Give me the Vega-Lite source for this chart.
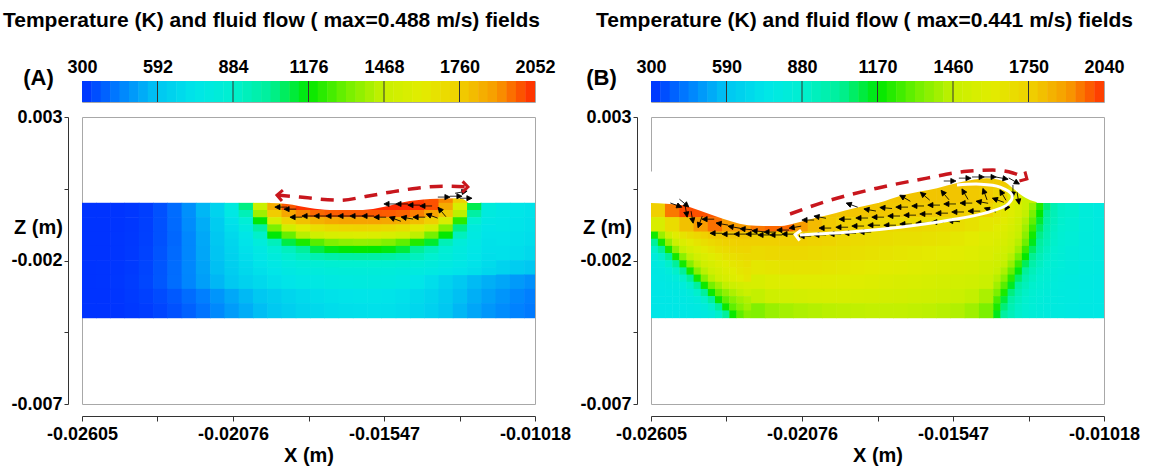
{
"$schema": "https://vega.github.io/schema/vega-lite/v6.json",
"padding": {"left": 2, "top": 9, "right": 0, "bottom": 0},
"config": {"font": "Liberation Sans", "view": {"stroke": "#a8a8a8"}, "axis": {"labelFont": "Liberation Sans", "titleFont": "Liberation Sans"}, "title": {"font": "Liberation Sans"}},
"datasets": {
"cba": [{"t":318.25},{"t":354.75},{"t":391.25},{"t":427.75},{"t":464.25},{"t":500.75},{"t":537.25},{"t":573.75},{"t":610.25},{"t":646.75},{"t":683.25},{"t":719.75},{"t":756.25},{"t":792.75},{"t":829.25},{"t":865.75},{"t":902.25},{"t":938.75},{"t":975.25},{"t":1011.75},{"t":1048.25},{"t":1084.75},{"t":1121.25},{"t":1157.75},{"t":1194.25},{"t":1230.75},{"t":1267.25},{"t":1303.75},{"t":1340.25},{"t":1376.75},{"t":1413.25},{"t":1449.75},{"t":1486.25},{"t":1522.75},{"t":1559.25},{"t":1595.75},{"t":1632.25},{"t":1668.75},{"t":1705.25},{"t":1741.75},{"t":1778.25},{"t":1814.75},{"t":1851.25},{"t":1887.75},{"t":1924.25},{"t":1960.75},{"t":1997.25},{"t":2033.75}],
"cbb": [{"t":318.1},{"t":354.4},{"t":390.6},{"t":426.9},{"t":463.1},{"t":499.4},{"t":535.6},{"t":571.9},{"t":608.1},{"t":644.4},{"t":680.6},{"t":716.9},{"t":753.1},{"t":789.4},{"t":825.6},{"t":861.9},{"t":898.1},{"t":934.4},{"t":970.6},{"t":1006.9},{"t":1043.1},{"t":1079.4},{"t":1115.6},{"t":1151.9},{"t":1188.1},{"t":1224.4},{"t":1260.6},{"t":1296.9},{"t":1333.1},{"t":1369.4},{"t":1405.6},{"t":1441.9},{"t":1478.1},{"t":1514.4},{"t":1550.6},{"t":1586.9},{"t":1623.1},{"t":1659.4},{"t":1695.6},{"t":1731.9},{"t":1768.1},{"t":1804.4},{"t":1840.6},{"t":1876.9},{"t":1913.1},{"t":1949.4},{"t":1985.6},{"t":2021.9}],
"fa": [
{"x":-14.8,"z":0.25,"t":2040},{"x":-14.3,"z":0.25,"t":2030},{"x":-13.8,"z":0.25,"t":2000},{"x":-13.3,"z":0.25,"t":1930},{"x":-12.8,"z":0.25,"t":1760},
{"x":-25.8,"z":-0.25,"t":305},{"x":-25.3,"z":-0.25,"t":305},{"x":-24.8,"z":-0.25,"t":308},{"x":-24.3,"z":-0.25,"t":312},{"x":-23.8,"z":-0.25,"t":325},{"x":-23.3,"z":-0.25,"t":360},{"x":-22.8,"z":-0.25,"t":410},{"x":-22.3,"z":-0.25,"t":480},{"x":-21.8,"z":-0.25,"t":560},{"x":-21.3,"z":-0.25,"t":650},{"x":-11.3,"z":-0.25,"t":770},{"x":-10.8,"z":-0.25,"t":740},{"x":-10.3,"z":-0.25,"t":725},
{"x":-25.8,"z":-0.75,"t":305},{"x":-25.3,"z":-0.75,"t":305},{"x":-24.8,"z":-0.75,"t":308},{"x":-24.3,"z":-0.75,"t":313},{"x":-23.8,"z":-0.75,"t":328},{"x":-23.3,"z":-0.75,"t":360},{"x":-22.8,"z":-0.75,"t":405},{"x":-22.3,"z":-0.75,"t":470},{"x":-21.8,"z":-0.75,"t":540},{"x":-21.3,"z":-0.75,"t":620},{"x":-11.3,"z":-0.75,"t":750},{"x":-10.8,"z":-0.75,"t":730},{"x":-10.3,"z":-0.75,"t":715},
{"x":-25.8,"z":-1.25,"t":305},{"x":-25.3,"z":-1.25,"t":306},{"x":-24.8,"z":-1.25,"t":309},{"x":-24.3,"z":-1.25,"t":315},{"x":-23.8,"z":-1.25,"t":330},{"x":-23.3,"z":-1.25,"t":360},{"x":-22.8,"z":-1.25,"t":400},{"x":-22.3,"z":-1.25,"t":460},{"x":-21.8,"z":-1.25,"t":530},{"x":-21.3,"z":-1.25,"t":600},{"x":-11.3,"z":-1.25,"t":730},{"x":-10.8,"z":-1.25,"t":715},{"x":-10.3,"z":-1.25,"t":700},
{"x":-25.8,"z":-1.75,"t":305},{"x":-25.3,"z":-1.75,"t":306},{"x":-24.8,"z":-1.75,"t":310},{"x":-24.3,"z":-1.75,"t":317},{"x":-23.8,"z":-1.75,"t":333},{"x":-23.3,"z":-1.75,"t":365},{"x":-22.8,"z":-1.75,"t":405},{"x":-22.3,"z":-1.75,"t":460},{"x":-21.8,"z":-1.75,"t":525},{"x":-21.3,"z":-1.75,"t":590},{"x":-11.3,"z":-1.75,"t":715},{"x":-10.8,"z":-1.75,"t":700},{"x":-10.3,"z":-1.75,"t":680},
{"x":-25.8,"z":-2.25,"t":305},{"x":-25.3,"z":-2.25,"t":307},{"x":-24.8,"z":-2.25,"t":311},{"x":-24.3,"z":-2.25,"t":319},{"x":-23.8,"z":-2.25,"t":337},{"x":-23.3,"z":-2.25,"t":370},{"x":-22.8,"z":-2.25,"t":410},{"x":-22.3,"z":-2.25,"t":460},{"x":-21.8,"z":-2.25,"t":520},{"x":-21.3,"z":-2.25,"t":580},{"x":-11.3,"z":-2.25,"t":650},{"x":-10.8,"z":-2.25,"t":625},{"x":-10.3,"z":-2.25,"t":600},
{"x":-25.8,"z":-2.75,"t":305},{"x":-25.3,"z":-2.75,"t":307},{"x":-24.8,"z":-2.75,"t":312},{"x":-24.3,"z":-2.75,"t":321},{"x":-23.8,"z":-2.75,"t":340},{"x":-23.3,"z":-2.75,"t":372},{"x":-22.8,"z":-2.75,"t":412},{"x":-22.3,"z":-2.75,"t":458},{"x":-21.8,"z":-2.75,"t":510},{"x":-21.3,"z":-2.75,"t":560},{"x":-20.8,"z":-2.75,"t":605},{"x":-20.3,"z":-2.75,"t":645},{"x":-19.8,"z":-2.75,"t":680},{"x":-19.3,"z":-2.75,"t":710},{"x":-18.8,"z":-2.75,"t":735},{"x":-18.3,"z":-2.75,"t":755},{"x":-17.8,"z":-2.75,"t":770},{"x":-17.3,"z":-2.75,"t":785},{"x":-16.8,"z":-2.75,"t":795},{"x":-16.3,"z":-2.75,"t":800},{"x":-15.8,"z":-2.75,"t":800},{"x":-15.3,"z":-2.75,"t":795},{"x":-14.8,"z":-2.75,"t":775},{"x":-14.3,"z":-2.75,"t":740},{"x":-13.8,"z":-2.75,"t":700},{"x":-13.3,"z":-2.75,"t":650},{"x":-12.8,"z":-2.75,"t":605},{"x":-12.3,"z":-2.75,"t":570},{"x":-11.8,"z":-2.75,"t":545},{"x":-11.3,"z":-2.75,"t":525},{"x":-10.8,"z":-2.75,"t":500},{"x":-10.3,"z":-2.75,"t":480},
{"x":-25.8,"z":-3.25,"t":305},{"x":-25.3,"z":-3.25,"t":306},{"x":-24.8,"z":-3.25,"t":310},{"x":-24.3,"z":-3.25,"t":318},{"x":-23.8,"z":-3.25,"t":330},{"x":-23.3,"z":-3.25,"t":350},{"x":-22.8,"z":-3.25,"t":375},{"x":-22.3,"z":-3.25,"t":410},{"x":-21.8,"z":-3.25,"t":445},{"x":-21.3,"z":-3.25,"t":490},{"x":-20.8,"z":-3.25,"t":530},{"x":-20.3,"z":-3.25,"t":565},{"x":-19.8,"z":-3.25,"t":600},{"x":-19.3,"z":-3.25,"t":630},{"x":-18.8,"z":-3.25,"t":660},{"x":-18.3,"z":-3.25,"t":685},{"x":-17.8,"z":-3.25,"t":705},{"x":-17.3,"z":-3.25,"t":720},{"x":-16.8,"z":-3.25,"t":730},{"x":-16.3,"z":-3.25,"t":735},{"x":-15.8,"z":-3.25,"t":735},{"x":-15.3,"z":-3.25,"t":730},{"x":-14.8,"z":-3.25,"t":715},{"x":-14.3,"z":-3.25,"t":690},{"x":-13.8,"z":-3.25,"t":660},{"x":-13.3,"z":-3.25,"t":620},{"x":-12.8,"z":-3.25,"t":580},{"x":-12.3,"z":-3.25,"t":545},{"x":-11.8,"z":-3.25,"t":515},{"x":-11.3,"z":-3.25,"t":490},{"x":-10.8,"z":-3.25,"t":465},{"x":-10.3,"z":-3.25,"t":445},
{"x":-25.8,"z":-3.75,"t":305},{"x":-25.3,"z":-3.75,"t":305},{"x":-24.8,"z":-3.75,"t":308},{"x":-24.3,"z":-3.75,"t":314},{"x":-23.8,"z":-3.75,"t":322},{"x":-23.3,"z":-3.75,"t":338},{"x":-22.8,"z":-3.75,"t":360},{"x":-22.3,"z":-3.75,"t":390},{"x":-21.8,"z":-3.75,"t":425},{"x":-21.3,"z":-3.75,"t":465},{"x":-20.8,"z":-3.75,"t":505},{"x":-20.3,"z":-3.75,"t":540},{"x":-19.8,"z":-3.75,"t":575},{"x":-19.3,"z":-3.75,"t":605},{"x":-18.8,"z":-3.75,"t":635},{"x":-18.3,"z":-3.75,"t":660},{"x":-17.8,"z":-3.75,"t":680},{"x":-17.3,"z":-3.75,"t":695},{"x":-16.8,"z":-3.75,"t":705},{"x":-16.3,"z":-3.75,"t":712},{"x":-15.8,"z":-3.75,"t":715},{"x":-15.3,"z":-3.75,"t":710},{"x":-14.8,"z":-3.75,"t":695},{"x":-14.3,"z":-3.75,"t":670},{"x":-13.8,"z":-3.75,"t":640},{"x":-13.3,"z":-3.75,"t":600},{"x":-12.8,"z":-3.75,"t":560},{"x":-12.3,"z":-3.75,"t":525},{"x":-11.8,"z":-3.75,"t":495},{"x":-11.3,"z":-3.75,"t":470},{"x":-10.8,"z":-3.75,"t":450},{"x":-10.3,"z":-3.75,"t":435}
],
"fa2": [
{"x":-20.8,"z":-0.125,"t":800},{"x":-20.3,"z":-0.125,"t":1050},{"x":-19.8,"z":-0.125,"t":1480},{"x":-19.3,"z":-0.125,"t":1850},{"x":-18.8,"z":-0.125,"t":1990},{"x":-18.3,"z":-0.125,"t":2035},{"x":-17.8,"z":-0.125,"t":2050},{"x":-17.3,"z":-0.125,"t":2050},{"x":-16.8,"z":-0.125,"t":2050},{"x":-16.3,"z":-0.125,"t":2050},{"x":-15.8,"z":-0.125,"t":2050},{"x":-15.3,"z":-0.125,"t":2050},{"x":-14.8,"z":-0.125,"t":2050},{"x":-14.3,"z":-0.125,"t":2040},{"x":-13.8,"z":-0.125,"t":2000},{"x":-13.3,"z":-0.125,"t":1860},{"x":-12.8,"z":-0.125,"t":1550},{"x":-12.3,"z":-0.125,"t":1100},{"x":-11.8,"z":-0.125,"t":820},
{"x":-20.8,"z":-0.375,"t":760},{"x":-20.3,"z":-0.375,"t":950},{"x":-19.8,"z":-0.375,"t":1400},{"x":-19.3,"z":-0.375,"t":1770},{"x":-18.8,"z":-0.375,"t":1870},{"x":-18.3,"z":-0.375,"t":1930},{"x":-17.8,"z":-0.375,"t":1970},{"x":-17.3,"z":-0.375,"t":1985},{"x":-16.8,"z":-0.375,"t":1990},{"x":-16.3,"z":-0.375,"t":1990},{"x":-15.8,"z":-0.375,"t":1990},{"x":-15.3,"z":-0.375,"t":1985},{"x":-14.8,"z":-0.375,"t":1975},{"x":-14.3,"z":-0.375,"t":1940},{"x":-13.8,"z":-0.375,"t":1880},{"x":-13.3,"z":-0.375,"t":1780},{"x":-12.8,"z":-0.375,"t":1450},{"x":-12.3,"z":-0.375,"t":1000},{"x":-11.8,"z":-0.375,"t":790},
{"x":-20.8,"z":-0.625,"t":720},{"x":-20.3,"z":-0.625,"t":850},{"x":-19.8,"z":-0.625,"t":1170},{"x":-19.3,"z":-0.625,"t":1540},{"x":-18.8,"z":-0.625,"t":1740},{"x":-18.3,"z":-0.625,"t":1800},{"x":-17.8,"z":-0.625,"t":1845},{"x":-17.3,"z":-0.625,"t":1868},{"x":-16.8,"z":-0.625,"t":1878},{"x":-16.3,"z":-0.625,"t":1880},{"x":-15.8,"z":-0.625,"t":1880},{"x":-15.3,"z":-0.625,"t":1870},{"x":-14.8,"z":-0.625,"t":1850},{"x":-14.3,"z":-0.625,"t":1810},{"x":-13.8,"z":-0.625,"t":1760},{"x":-13.3,"z":-0.625,"t":1560},{"x":-12.8,"z":-0.625,"t":1230},{"x":-12.3,"z":-0.625,"t":880},{"x":-11.8,"z":-0.625,"t":760},
{"x":-20.8,"z":-0.875,"t":700},{"x":-20.3,"z":-0.875,"t":790},{"x":-19.8,"z":-0.875,"t":1000},{"x":-19.3,"z":-0.875,"t":1340},{"x":-18.8,"z":-0.875,"t":1520},{"x":-18.3,"z":-0.875,"t":1620},{"x":-17.8,"z":-0.875,"t":1685},{"x":-17.3,"z":-0.875,"t":1720},{"x":-16.8,"z":-0.875,"t":1735},{"x":-16.3,"z":-0.875,"t":1740},{"x":-15.8,"z":-0.875,"t":1735},{"x":-15.3,"z":-0.875,"t":1720},{"x":-14.8,"z":-0.875,"t":1690},{"x":-14.3,"z":-0.875,"t":1630},{"x":-13.8,"z":-0.875,"t":1540},{"x":-13.3,"z":-0.875,"t":1350},{"x":-12.8,"z":-0.875,"t":1050},{"x":-12.3,"z":-0.875,"t":800},{"x":-11.8,"z":-0.875,"t":740},
{"x":-20.8,"z":-1.125,"t":680},{"x":-20.3,"z":-1.125,"t":745},{"x":-19.8,"z":-1.125,"t":900},{"x":-19.3,"z":-1.125,"t":1170},{"x":-18.8,"z":-1.125,"t":1310},{"x":-18.3,"z":-1.125,"t":1440},{"x":-17.8,"z":-1.125,"t":1510},{"x":-17.3,"z":-1.125,"t":1550},{"x":-16.8,"z":-1.125,"t":1570},{"x":-16.3,"z":-1.125,"t":1580},{"x":-15.8,"z":-1.125,"t":1575},{"x":-15.3,"z":-1.125,"t":1555},{"x":-14.8,"z":-1.125,"t":1520},{"x":-14.3,"z":-1.125,"t":1450},{"x":-13.8,"z":-1.125,"t":1330},{"x":-13.3,"z":-1.125,"t":1180},{"x":-12.8,"z":-1.125,"t":930},{"x":-12.3,"z":-1.125,"t":780},{"x":-11.8,"z":-1.125,"t":730},
{"x":-20.8,"z":-1.375,"t":665},{"x":-20.3,"z":-1.375,"t":730},{"x":-19.8,"z":-1.375,"t":820},{"x":-19.3,"z":-1.375,"t":940},{"x":-18.8,"z":-1.375,"t":1110},{"x":-18.3,"z":-1.375,"t":1210},{"x":-17.8,"z":-1.375,"t":1290},{"x":-17.3,"z":-1.375,"t":1345},{"x":-16.8,"z":-1.375,"t":1370},{"x":-16.3,"z":-1.375,"t":1380},{"x":-15.8,"z":-1.375,"t":1375},{"x":-15.3,"z":-1.375,"t":1350},{"x":-14.8,"z":-1.375,"t":1300},{"x":-14.3,"z":-1.375,"t":1220},{"x":-13.8,"z":-1.375,"t":1130},{"x":-13.3,"z":-1.375,"t":950},{"x":-12.8,"z":-1.375,"t":830},{"x":-12.3,"z":-1.375,"t":760},{"x":-11.8,"z":-1.375,"t":720},
{"x":-20.8,"z":-1.625,"t":655},{"x":-20.3,"z":-1.625,"t":715},{"x":-19.8,"z":-1.625,"t":770},{"x":-19.3,"z":-1.625,"t":855},{"x":-18.8,"z":-1.625,"t":930},{"x":-18.3,"z":-1.625,"t":1020},{"x":-17.8,"z":-1.625,"t":1110},{"x":-17.3,"z":-1.625,"t":1158},{"x":-16.8,"z":-1.625,"t":1170},{"x":-16.3,"z":-1.625,"t":1180},{"x":-15.8,"z":-1.625,"t":1175},{"x":-15.3,"z":-1.625,"t":1160},{"x":-14.8,"z":-1.625,"t":1120},{"x":-14.3,"z":-1.625,"t":1030},{"x":-13.8,"z":-1.625,"t":940},{"x":-13.3,"z":-1.625,"t":860},{"x":-12.8,"z":-1.625,"t":800},{"x":-12.3,"z":-1.625,"t":750},{"x":-11.8,"z":-1.625,"t":715},
{"x":-20.8,"z":-1.875,"t":645},{"x":-20.3,"z":-1.875,"t":700},{"x":-19.8,"z":-1.875,"t":750},{"x":-19.3,"z":-1.875,"t":810},{"x":-18.8,"z":-1.875,"t":875},{"x":-18.3,"z":-1.875,"t":920},{"x":-17.8,"z":-1.875,"t":960},{"x":-17.3,"z":-1.875,"t":985},{"x":-16.8,"z":-1.875,"t":995},{"x":-16.3,"z":-1.875,"t":1000},{"x":-15.8,"z":-1.875,"t":995},{"x":-15.3,"z":-1.875,"t":985},{"x":-14.8,"z":-1.875,"t":965},{"x":-14.3,"z":-1.875,"t":925},{"x":-13.8,"z":-1.875,"t":880},{"x":-13.3,"z":-1.875,"t":830},{"x":-12.8,"z":-1.875,"t":785},{"x":-12.3,"z":-1.875,"t":740},{"x":-11.8,"z":-1.875,"t":705},
{"x":-20.8,"z":-2.125,"t":635},{"x":-20.3,"z":-2.125,"t":685},{"x":-19.8,"z":-2.125,"t":730},{"x":-19.3,"z":-2.125,"t":765},{"x":-18.8,"z":-2.125,"t":805},{"x":-18.3,"z":-2.125,"t":832},{"x":-17.8,"z":-2.125,"t":855},{"x":-17.3,"z":-2.125,"t":870},{"x":-16.8,"z":-2.125,"t":877},{"x":-16.3,"z":-2.125,"t":880},{"x":-15.8,"z":-2.125,"t":878},{"x":-15.3,"z":-2.125,"t":870},{"x":-14.8,"z":-2.125,"t":858},{"x":-14.3,"z":-2.125,"t":835},{"x":-13.8,"z":-2.125,"t":810},{"x":-13.3,"z":-2.125,"t":780},{"x":-12.8,"z":-2.125,"t":755},{"x":-12.3,"z":-2.125,"t":725},{"x":-11.8,"z":-2.125,"t":690},
{"x":-20.8,"z":-2.375,"t":625},{"x":-20.3,"z":-2.375,"t":675},{"x":-19.8,"z":-2.375,"t":712},{"x":-19.3,"z":-2.375,"t":740},{"x":-18.8,"z":-2.375,"t":772},{"x":-18.3,"z":-2.375,"t":793},{"x":-17.8,"z":-2.375,"t":810},{"x":-17.3,"z":-2.375,"t":822},{"x":-16.8,"z":-2.375,"t":827},{"x":-16.3,"z":-2.375,"t":830},{"x":-15.8,"z":-2.375,"t":828},{"x":-15.3,"z":-2.375,"t":822},{"x":-14.8,"z":-2.375,"t":812},{"x":-14.3,"z":-2.375,"t":795},{"x":-13.8,"z":-2.375,"t":775},{"x":-13.3,"z":-2.375,"t":752},{"x":-12.8,"z":-2.375,"t":730},{"x":-12.3,"z":-2.375,"t":705},{"x":-11.8,"z":-2.375,"t":670}
],
"fb": [
{"x":-16.3,"z":0.75,"t":1780},{"x":-15.8,"z":0.75,"t":1790},{"x":-15.3,"z":0.75,"t":1790},{"x":-14.8,"z":0.75,"t":1790},{"x":-14.3,"z":0.75,"t":1780},{"x":-13.8,"z":0.75,"t":1770},{"x":-13.3,"z":0.75,"t":1740},
{"x":-17.8,"z":0.25,"t":1790},{"x":-17.3,"z":0.25,"t":1790},{"x":-16.8,"z":0.25,"t":1790},{"x":-16.3,"z":0.25,"t":1790},{"x":-15.8,"z":0.25,"t":1790},{"x":-15.3,"z":0.25,"t":1790},{"x":-14.8,"z":0.25,"t":1780},{"x":-14.3,"z":0.25,"t":1770},{"x":-13.8,"z":0.25,"t":1740},{"x":-13.3,"z":0.25,"t":1620},{"x":-12.8,"z":0.25,"t":1480},
{"x":-25.8,"z":-0.25,"t":1760},{"x":-25.3,"z":-0.25,"t":1950},{"x":-24.8,"z":-0.25,"t":2010},{"x":-24.3,"z":-0.25,"t":2000},{"x":-23.8,"z":-0.25,"t":1990},{"x":-20.3,"z":-0.25,"t":1800},{"x":-19.8,"z":-0.25,"t":1790},{"x":-19.3,"z":-0.25,"t":1790},{"x":-18.8,"z":-0.25,"t":1790},{"x":-18.3,"z":-0.25,"t":1790},{"x":-17.8,"z":-0.25,"t":1785},{"x":-17.3,"z":-0.25,"t":1780},{"x":-16.8,"z":-0.25,"t":1780},{"x":-16.3,"z":-0.25,"t":1775},{"x":-15.8,"z":-0.25,"t":1770},{"x":-15.3,"z":-0.25,"t":1765},{"x":-14.8,"z":-0.25,"t":1755},{"x":-14.3,"z":-0.25,"t":1735},{"x":-11.3,"z":-0.25,"t":890},{"x":-10.8,"z":-0.25,"t":825},{"x":-10.3,"z":-0.25,"t":790},
{"x":-25.8,"z":-0.75,"t":1560},{"x":-25.3,"z":-0.75,"t":1700},{"x":-24.8,"z":-0.75,"t":1800},{"x":-24.3,"z":-0.75,"t":1900},{"x":-23.8,"z":-0.75,"t":1960},{"x":-23.3,"z":-0.75,"t":1900},{"x":-22.8,"z":-0.75,"t":1900},{"x":-22.3,"z":-0.75,"t":1950},{"x":-21.8,"z":-0.75,"t":1970},{"x":-21.3,"z":-0.75,"t":1970},{"x":-20.8,"z":-0.75,"t":1900},{"x":-20.3,"z":-0.75,"t":1820},{"x":-19.8,"z":-0.75,"t":1780},{"x":-19.3,"z":-0.75,"t":1760},{"x":-18.8,"z":-0.75,"t":1750},{"x":-18.3,"z":-0.75,"t":1740},{"x":-17.8,"z":-0.75,"t":1730},{"x":-17.3,"z":-0.75,"t":1720},{"x":-16.8,"z":-0.75,"t":1720},{"x":-16.3,"z":-0.75,"t":1710},{"x":-15.8,"z":-0.75,"t":1700},{"x":-15.3,"z":-0.75,"t":1690},{"x":-14.8,"z":-0.75,"t":1670},{"x":-14.3,"z":-0.75,"t":1640},{"x":-11.3,"z":-0.75,"t":865},{"x":-10.8,"z":-0.75,"t":820},{"x":-10.3,"z":-0.75,"t":795},
{"x":-22.3,"z":-1.25,"t":1760},{"x":-21.8,"z":-1.25,"t":1760},{"x":-21.3,"z":-1.25,"t":1760},{"x":-20.8,"z":-1.25,"t":1760},{"x":-20.3,"z":-1.25,"t":1750},{"x":-19.8,"z":-1.25,"t":1740},{"x":-19.3,"z":-1.25,"t":1720},{"x":-18.8,"z":-1.25,"t":1710},{"x":-18.3,"z":-1.25,"t":1700},{"x":-17.8,"z":-1.25,"t":1690},{"x":-17.3,"z":-1.25,"t":1680},{"x":-16.8,"z":-1.25,"t":1680},{"x":-16.3,"z":-1.25,"t":1670},{"x":-15.8,"z":-1.25,"t":1660},{"x":-15.3,"z":-1.25,"t":1640},{"x":-14.8,"z":-1.25,"t":1620},{"x":-14.3,"z":-1.25,"t":1590},{"x":-11.3,"z":-1.25,"t":850},{"x":-10.8,"z":-1.25,"t":812},{"x":-10.3,"z":-1.25,"t":790},
{"x":-22.3,"z":-1.75,"t":1710},{"x":-21.8,"z":-1.75,"t":1720},{"x":-21.3,"z":-1.75,"t":1720},{"x":-20.8,"z":-1.75,"t":1720},{"x":-20.3,"z":-1.75,"t":1710},{"x":-19.8,"z":-1.75,"t":1700},{"x":-19.3,"z":-1.75,"t":1690},{"x":-18.8,"z":-1.75,"t":1680},{"x":-18.3,"z":-1.75,"t":1670},{"x":-17.8,"z":-1.75,"t":1660},{"x":-17.3,"z":-1.75,"t":1650},{"x":-16.8,"z":-1.75,"t":1640},{"x":-16.3,"z":-1.75,"t":1630},{"x":-15.8,"z":-1.75,"t":1620},{"x":-15.3,"z":-1.75,"t":1610},{"x":-14.8,"z":-1.75,"t":1590},{"x":-14.3,"z":-1.75,"t":1570},{"x":-11.3,"z":-1.75,"t":830},{"x":-10.8,"z":-1.75,"t":805},{"x":-10.3,"z":-1.75,"t":785},
{"x":-22.3,"z":-2.25,"t":1640},{"x":-21.8,"z":-2.25,"t":1650},{"x":-21.3,"z":-2.25,"t":1660},{"x":-20.8,"z":-2.25,"t":1660},{"x":-20.3,"z":-2.25,"t":1660},{"x":-19.8,"z":-2.25,"t":1650},{"x":-19.3,"z":-2.25,"t":1640},{"x":-18.8,"z":-2.25,"t":1630},{"x":-18.3,"z":-2.25,"t":1620},{"x":-17.8,"z":-2.25,"t":1610},{"x":-17.3,"z":-2.25,"t":1600},{"x":-16.8,"z":-2.25,"t":1590},{"x":-16.3,"z":-2.25,"t":1580},{"x":-15.8,"z":-2.25,"t":1570},{"x":-15.3,"z":-2.25,"t":1560},{"x":-14.8,"z":-2.25,"t":1545},{"x":-14.3,"z":-2.25,"t":1520},{"x":-11.3,"z":-2.25,"t":815},{"x":-10.8,"z":-2.25,"t":795},{"x":-10.3,"z":-2.25,"t":778},
{"x":-22.3,"z":-2.75,"t":1550},{"x":-21.8,"z":-2.75,"t":1580},{"x":-21.3,"z":-2.75,"t":1590},{"x":-20.8,"z":-2.75,"t":1600},{"x":-20.3,"z":-2.75,"t":1600},{"x":-19.8,"z":-2.75,"t":1600},{"x":-19.3,"z":-2.75,"t":1595},{"x":-18.8,"z":-2.75,"t":1590},{"x":-18.3,"z":-2.75,"t":1580},{"x":-17.8,"z":-2.75,"t":1570},{"x":-17.3,"z":-2.75,"t":1560},{"x":-16.8,"z":-2.75,"t":1550},{"x":-16.3,"z":-2.75,"t":1540},{"x":-15.8,"z":-2.75,"t":1530},{"x":-15.3,"z":-2.75,"t":1520},{"x":-14.8,"z":-2.75,"t":1505},{"x":-14.3,"z":-2.75,"t":1480},{"x":-11.3,"z":-2.75,"t":800},{"x":-10.8,"z":-2.75,"t":782},{"x":-10.3,"z":-2.75,"t":770},
{"x":-22.3,"z":-3.25,"t":1460},{"x":-21.8,"z":-3.25,"t":1500},{"x":-21.3,"z":-3.25,"t":1520},{"x":-20.8,"z":-3.25,"t":1530},{"x":-20.3,"z":-3.25,"t":1540},{"x":-19.8,"z":-3.25,"t":1545},{"x":-19.3,"z":-3.25,"t":1545},{"x":-18.8,"z":-3.25,"t":1540},{"x":-18.3,"z":-3.25,"t":1535},{"x":-17.8,"z":-3.25,"t":1530},{"x":-17.3,"z":-3.25,"t":1525},{"x":-16.8,"z":-3.25,"t":1515},{"x":-16.3,"z":-3.25,"t":1505},{"x":-15.8,"z":-3.25,"t":1495},{"x":-15.3,"z":-3.25,"t":1480},{"x":-14.8,"z":-3.25,"t":1460},{"x":-14.3,"z":-3.25,"t":1420},{"x":-11.3,"z":-3.25,"t":790},{"x":-10.8,"z":-3.25,"t":775},{"x":-10.3,"z":-3.25,"t":765},
{"x":-22.3,"z":-3.75,"t":1350},{"x":-21.8,"z":-3.75,"t":1390},{"x":-21.3,"z":-3.75,"t":1410},{"x":-20.8,"z":-3.75,"t":1425},{"x":-20.3,"z":-3.75,"t":1435},{"x":-19.8,"z":-3.75,"t":1445},{"x":-19.3,"z":-3.75,"t":1450},{"x":-18.8,"z":-3.75,"t":1455},{"x":-18.3,"z":-3.75,"t":1460},{"x":-17.8,"z":-3.75,"t":1460},{"x":-17.3,"z":-3.75,"t":1460},{"x":-16.8,"z":-3.75,"t":1455},{"x":-16.3,"z":-3.75,"t":1450},{"x":-15.8,"z":-3.75,"t":1440},{"x":-15.3,"z":-3.75,"t":1430},{"x":-14.8,"z":-3.75,"t":1400},{"x":-14.3,"z":-3.75,"t":1340},{"x":-11.3,"z":-3.75,"t":780},{"x":-10.8,"z":-3.75,"t":770},{"x":-10.3,"z":-3.75,"t":760}
],
"fb2": [
{"x":-25.925,"z":-1.125,"t":1200},{"x":-25.675,"z":-1.125,"t":1390},{"x":-25.425,"z":-1.125,"t":1505},{"x":-25.175,"z":-1.125,"t":1600},{"x":-24.925,"z":-1.125,"t":1660},{"x":-24.675,"z":-1.125,"t":1695},{"x":-24.425,"z":-1.125,"t":1725},{"x":-24.175,"z":-1.125,"t":1755},{"x":-23.925,"z":-1.125,"t":1775},{"x":-23.675,"z":-1.125,"t":1780},{"x":-23.425,"z":-1.125,"t":1785},{"x":-23.175,"z":-1.125,"t":1785},{"x":-22.925,"z":-1.125,"t":1785},{"x":-22.675,"z":-1.125,"t":1785},
{"x":-25.925,"z":-1.375,"t":1022},{"x":-25.675,"z":-1.375,"t":1200},{"x":-25.425,"z":-1.375,"t":1380},{"x":-25.175,"z":-1.375,"t":1485},{"x":-24.925,"z":-1.375,"t":1570},{"x":-24.675,"z":-1.375,"t":1620},{"x":-24.425,"z":-1.375,"t":1655},{"x":-24.175,"z":-1.375,"t":1685},{"x":-23.925,"z":-1.375,"t":1715},{"x":-23.675,"z":-1.375,"t":1733},{"x":-23.425,"z":-1.375,"t":1752},{"x":-23.175,"z":-1.375,"t":1756},{"x":-22.925,"z":-1.375,"t":1760},{"x":-22.675,"z":-1.375,"t":1760},
{"x":-25.925,"z":-1.625,"t":898},{"x":-25.675,"z":-1.625,"t":1022},{"x":-25.425,"z":-1.625,"t":1202},{"x":-25.175,"z":-1.625,"t":1370},{"x":-24.925,"z":-1.625,"t":1466},{"x":-24.675,"z":-1.625,"t":1540},{"x":-24.425,"z":-1.625,"t":1588},{"x":-24.175,"z":-1.625,"t":1625},{"x":-23.925,"z":-1.625,"t":1655},{"x":-23.675,"z":-1.625,"t":1685},{"x":-23.425,"z":-1.625,"t":1703},{"x":-23.175,"z":-1.625,"t":1722},{"x":-22.925,"z":-1.625,"t":1730},{"x":-22.675,"z":-1.625,"t":1735},
{"x":-25.925,"z":-1.875,"t":820},{"x":-25.675,"z":-1.875,"t":897},{"x":-25.425,"z":-1.875,"t":1022},{"x":-25.175,"z":-1.875,"t":1200},{"x":-24.925,"z":-1.875,"t":1365},{"x":-24.675,"z":-1.875,"t":1455},{"x":-24.425,"z":-1.875,"t":1525},{"x":-24.175,"z":-1.875,"t":1568},{"x":-23.925,"z":-1.875,"t":1605},{"x":-23.675,"z":-1.875,"t":1635},{"x":-23.425,"z":-1.875,"t":1665},{"x":-23.175,"z":-1.875,"t":1683},{"x":-22.925,"z":-1.875,"t":1700},{"x":-22.675,"z":-1.875,"t":1710},
{"x":-25.925,"z":-2.125,"t":788},{"x":-25.675,"z":-2.125,"t":820},{"x":-25.425,"z":-2.125,"t":897},{"x":-25.175,"z":-2.125,"t":1020},{"x":-24.925,"z":-2.125,"t":1200},{"x":-24.675,"z":-2.125,"t":1358},{"x":-24.425,"z":-2.125,"t":1444},{"x":-24.175,"z":-2.125,"t":1508},{"x":-23.925,"z":-2.125,"t":1548},{"x":-23.675,"z":-2.125,"t":1585},{"x":-23.425,"z":-2.125,"t":1615},{"x":-23.175,"z":-2.125,"t":1645},{"x":-22.925,"z":-2.125,"t":1663},{"x":-22.675,"z":-2.125,"t":1682},
{"x":-25.925,"z":-2.375,"t":772},{"x":-25.675,"z":-2.375,"t":787},{"x":-25.425,"z":-2.375,"t":820},{"x":-25.175,"z":-2.375,"t":896},{"x":-24.925,"z":-2.375,"t":1020},{"x":-24.675,"z":-2.375,"t":1197},{"x":-24.425,"z":-2.375,"t":1357},{"x":-24.175,"z":-2.375,"t":1444},{"x":-23.925,"z":-2.375,"t":1508},{"x":-23.675,"z":-2.375,"t":1548},{"x":-23.425,"z":-2.375,"t":1585},{"x":-23.175,"z":-2.375,"t":1615},{"x":-22.925,"z":-2.375,"t":1645},{"x":-22.675,"z":-2.375,"t":1663},
{"x":-25.925,"z":-2.625,"t":764},{"x":-25.675,"z":-2.625,"t":772},{"x":-25.425,"z":-2.625,"t":788},{"x":-25.175,"z":-2.625,"t":820},{"x":-24.925,"z":-2.625,"t":897},{"x":-24.675,"z":-2.625,"t":1020},{"x":-24.425,"z":-2.625,"t":1197},{"x":-24.175,"z":-2.625,"t":1358},{"x":-23.925,"z":-2.625,"t":1444},{"x":-23.675,"z":-2.625,"t":1508},{"x":-23.425,"z":-2.625,"t":1548},{"x":-23.175,"z":-2.625,"t":1585},{"x":-22.925,"z":-2.625,"t":1615},{"x":-22.675,"z":-2.625,"t":1645},
{"x":-25.925,"z":-2.875,"t":758},{"x":-25.675,"z":-2.875,"t":764},{"x":-25.425,"z":-2.875,"t":772},{"x":-25.175,"z":-2.875,"t":787},{"x":-24.925,"z":-2.875,"t":820},{"x":-24.675,"z":-2.875,"t":896},{"x":-24.425,"z":-2.875,"t":1018},{"x":-24.175,"z":-2.875,"t":1193},{"x":-23.925,"z":-2.875,"t":1330},{"x":-23.675,"z":-2.875,"t":1402},{"x":-23.425,"z":-2.875,"t":1457},{"x":-23.175,"z":-2.875,"t":1491},{"x":-22.925,"z":-2.875,"t":1523},{"x":-22.675,"z":-2.875,"t":1548},
{"x":-25.925,"z":-3.125,"t":752},{"x":-25.675,"z":-3.125,"t":758},{"x":-25.425,"z":-3.125,"t":764},{"x":-25.175,"z":-3.125,"t":772},{"x":-24.925,"z":-3.125,"t":787},{"x":-24.675,"z":-3.125,"t":818},{"x":-24.425,"z":-3.125,"t":895},{"x":-24.175,"z":-3.125,"t":1018},{"x":-23.925,"z":-3.125,"t":1189},{"x":-23.675,"z":-3.125,"t":1310},{"x":-23.425,"z":-3.125,"t":1375},{"x":-23.175,"z":-3.125,"t":1424},{"x":-22.925,"z":-3.125,"t":1454},{"x":-22.675,"z":-3.125,"t":1481},
{"x":-25.925,"z":-3.375,"t":748},{"x":-25.675,"z":-3.375,"t":752},{"x":-25.425,"z":-3.375,"t":758},{"x":-25.175,"z":-3.375,"t":764},{"x":-24.925,"z":-3.375,"t":772},{"x":-24.675,"z":-3.375,"t":787},{"x":-24.425,"z":-3.375,"t":818},{"x":-24.175,"z":-3.375,"t":895},{"x":-23.925,"z":-3.375,"t":1015},{"x":-23.675,"z":-3.375,"t":1188},{"x":-23.425,"z":-3.375,"t":1299},{"x":-23.175,"z":-3.375,"t":1359},{"x":-22.925,"z":-3.375,"t":1404},{"x":-22.675,"z":-3.375,"t":1432},
{"x":-25.925,"z":-3.625,"t":745},{"x":-25.675,"z":-3.625,"t":748},{"x":-25.425,"z":-3.625,"t":752},{"x":-25.175,"z":-3.625,"t":758},{"x":-24.925,"z":-3.625,"t":764},{"x":-24.675,"z":-3.625,"t":772},{"x":-24.425,"z":-3.625,"t":787},{"x":-24.175,"z":-3.625,"t":818},{"x":-23.925,"z":-3.625,"t":895},{"x":-23.675,"z":-3.625,"t":1018},{"x":-23.425,"z":-3.625,"t":1188},{"x":-23.175,"z":-3.625,"t":1300},{"x":-22.925,"z":-3.625,"t":1359},{"x":-22.675,"z":-3.625,"t":1404},
{"x":-25.925,"z":-3.875,"t":743},{"x":-25.675,"z":-3.875,"t":745},{"x":-25.425,"z":-3.875,"t":748},{"x":-25.175,"z":-3.875,"t":752},{"x":-24.925,"z":-3.875,"t":758},{"x":-24.675,"z":-3.875,"t":764},{"x":-24.425,"z":-3.875,"t":772},{"x":-24.175,"z":-3.875,"t":787},{"x":-23.925,"z":-3.875,"t":818},{"x":-23.675,"z":-3.875,"t":895},{"x":-23.425,"z":-3.875,"t":1015},{"x":-23.175,"z":-3.875,"t":1188},{"x":-22.925,"z":-3.875,"t":1299},{"x":-22.675,"z":-3.875,"t":1358},
{"x":-13.925,"z":-0.125,"t":1680},{"x":-13.675,"z":-0.125,"t":1650},{"x":-13.425,"z":-0.125,"t":1610},{"x":-13.175,"z":-0.125,"t":1560},{"x":-12.925,"z":-0.125,"t":1480},{"x":-12.675,"z":-0.125,"t":1380},{"x":-12.425,"z":-0.125,"t":1220},{"x":-12.175,"z":-0.125,"t":1060},{"x":-11.925,"z":-0.125,"t":965},{"x":-11.675,"z":-0.125,"t":910},
{"x":-13.925,"z":-0.375,"t":1665},{"x":-13.675,"z":-0.375,"t":1635},{"x":-13.425,"z":-0.375,"t":1590},{"x":-13.175,"z":-0.375,"t":1540},{"x":-12.925,"z":-0.375,"t":1460},{"x":-12.675,"z":-0.375,"t":1340},{"x":-12.425,"z":-0.375,"t":1175},{"x":-12.175,"z":-0.375,"t":1030},{"x":-11.925,"z":-0.375,"t":950},{"x":-11.675,"z":-0.375,"t":900},
{"x":-13.925,"z":-0.625,"t":1640},{"x":-13.675,"z":-0.625,"t":1610},{"x":-13.425,"z":-0.625,"t":1570},{"x":-13.175,"z":-0.625,"t":1510},{"x":-12.925,"z":-0.625,"t":1430},{"x":-12.675,"z":-0.625,"t":1300},{"x":-12.425,"z":-0.625,"t":1130},{"x":-12.175,"z":-0.625,"t":1000},{"x":-11.925,"z":-0.625,"t":935},{"x":-11.675,"z":-0.625,"t":893},
{"x":-13.925,"z":-0.875,"t":1610},{"x":-13.675,"z":-0.875,"t":1585},{"x":-13.425,"z":-0.875,"t":1545},{"x":-13.175,"z":-0.875,"t":1490},{"x":-12.925,"z":-0.875,"t":1400},{"x":-12.675,"z":-0.875,"t":1250},{"x":-12.425,"z":-0.875,"t":1085},{"x":-12.175,"z":-0.875,"t":975},{"x":-11.925,"z":-0.875,"t":920},{"x":-11.675,"z":-0.875,"t":885},
{"x":-13.925,"z":-1.125,"t":1590},{"x":-13.675,"z":-1.125,"t":1565},{"x":-13.425,"z":-1.125,"t":1525},{"x":-13.175,"z":-1.125,"t":1465},{"x":-12.925,"z":-1.125,"t":1365},{"x":-12.675,"z":-1.125,"t":1200},{"x":-12.425,"z":-1.125,"t":1045},{"x":-12.175,"z":-1.125,"t":960},{"x":-11.925,"z":-1.125,"t":905},{"x":-11.675,"z":-1.125,"t":873},
{"x":-13.925,"z":-1.375,"t":1570},{"x":-13.675,"z":-1.375,"t":1545},{"x":-13.425,"z":-1.375,"t":1500},{"x":-13.175,"z":-1.375,"t":1440},{"x":-12.925,"z":-1.375,"t":1320},{"x":-12.675,"z":-1.375,"t":1150},{"x":-12.425,"z":-1.375,"t":1015},{"x":-12.175,"z":-1.375,"t":945},{"x":-11.925,"z":-1.375,"t":897},{"x":-11.675,"z":-1.375,"t":866},
{"x":-13.925,"z":-1.625,"t":1550},{"x":-13.675,"z":-1.625,"t":1520},{"x":-13.425,"z":-1.625,"t":1475},{"x":-13.175,"z":-1.625,"t":1400},{"x":-12.925,"z":-1.625,"t":1250},{"x":-12.675,"z":-1.625,"t":1085},{"x":-12.425,"z":-1.625,"t":985},{"x":-12.175,"z":-1.625,"t":920},{"x":-11.925,"z":-1.625,"t":885},{"x":-11.675,"z":-1.625,"t":856},
{"x":-13.925,"z":-1.875,"t":1530},{"x":-13.675,"z":-1.875,"t":1495},{"x":-13.425,"z":-1.875,"t":1440},{"x":-13.175,"z":-1.875,"t":1330},{"x":-12.925,"z":-1.875,"t":1180},{"x":-12.675,"z":-1.875,"t":1035},{"x":-12.425,"z":-1.875,"t":950},{"x":-12.175,"z":-1.875,"t":900},{"x":-11.925,"z":-1.875,"t":868},{"x":-11.675,"z":-1.875,"t":845},
{"x":-13.925,"z":-2.125,"t":1500},{"x":-13.675,"z":-2.125,"t":1460},{"x":-13.425,"z":-2.125,"t":1385},{"x":-13.175,"z":-2.125,"t":1250},{"x":-12.925,"z":-2.125,"t":1090},{"x":-12.675,"z":-2.125,"t":985},{"x":-12.425,"z":-2.125,"t":925},{"x":-12.175,"z":-2.125,"t":885},{"x":-11.925,"z":-2.125,"t":857},{"x":-11.675,"z":-2.125,"t":835},
{"x":-13.925,"z":-2.375,"t":1475},{"x":-13.675,"z":-2.375,"t":1420},{"x":-13.425,"z":-2.375,"t":1310},{"x":-13.175,"z":-2.375,"t":1160},{"x":-12.925,"z":-2.375,"t":1020},{"x":-12.675,"z":-2.375,"t":945},{"x":-12.425,"z":-2.375,"t":897},{"x":-12.175,"z":-2.375,"t":866},{"x":-11.925,"z":-2.375,"t":842},{"x":-11.675,"z":-2.375,"t":822},
{"x":-13.925,"z":-2.625,"t":1440},{"x":-13.675,"z":-2.625,"t":1360},{"x":-13.425,"z":-2.625,"t":1230},{"x":-13.175,"z":-2.625,"t":1075},{"x":-12.925,"z":-2.625,"t":970},{"x":-12.675,"z":-2.625,"t":915},{"x":-12.425,"z":-2.625,"t":880},{"x":-12.175,"z":-2.625,"t":853},{"x":-11.925,"z":-2.625,"t":832},{"x":-11.675,"z":-2.625,"t":812},
{"x":-13.925,"z":-2.875,"t":1400},{"x":-13.675,"z":-2.875,"t":1290},{"x":-13.425,"z":-2.875,"t":1145},{"x":-13.175,"z":-2.875,"t":1005},{"x":-12.925,"z":-2.875,"t":940},{"x":-12.675,"z":-2.875,"t":893},{"x":-12.425,"z":-2.875,"t":865},{"x":-12.175,"z":-2.875,"t":840},{"x":-11.925,"z":-2.875,"t":820},{"x":-11.675,"z":-2.875,"t":806},
{"x":-13.925,"z":-3.125,"t":1340},{"x":-13.675,"z":-3.125,"t":1210},{"x":-13.425,"z":-3.125,"t":1055},{"x":-13.175,"z":-3.125,"t":962},{"x":-12.925,"z":-3.125,"t":907},{"x":-12.675,"z":-3.125,"t":875},{"x":-12.425,"z":-3.125,"t":850},{"x":-12.175,"z":-3.125,"t":827},{"x":-11.925,"z":-3.125,"t":810},{"x":-11.675,"z":-3.125,"t":800},
{"x":-13.925,"z":-3.375,"t":1270},{"x":-13.675,"z":-3.375,"t":1120},{"x":-13.425,"z":-3.375,"t":995},{"x":-13.175,"z":-3.375,"t":932},{"x":-12.925,"z":-3.375,"t":890},{"x":-12.675,"z":-3.375,"t":862},{"x":-12.425,"z":-3.375,"t":838},{"x":-12.175,"z":-3.375,"t":818},{"x":-11.925,"z":-3.375,"t":805},{"x":-11.675,"z":-3.375,"t":795},
{"x":-13.925,"z":-3.625,"t":1210},{"x":-13.675,"z":-3.625,"t":1060},{"x":-13.425,"z":-3.625,"t":963},{"x":-13.175,"z":-3.625,"t":908},{"x":-12.925,"z":-3.625,"t":876},{"x":-12.675,"z":-3.625,"t":850},{"x":-12.425,"z":-3.625,"t":829},{"x":-12.175,"z":-3.625,"t":811},{"x":-11.925,"z":-3.625,"t":800},{"x":-11.675,"z":-3.625,"t":792},
{"x":-13.925,"z":-3.875,"t":1150},{"x":-13.675,"z":-3.875,"t":1005},{"x":-13.425,"z":-3.875,"t":942},{"x":-13.175,"z":-3.875,"t":895},{"x":-12.925,"z":-3.875,"t":866},{"x":-12.675,"z":-3.875,"t":842},{"x":-12.425,"z":-3.875,"t":822},{"x":-12.175,"z":-3.875,"t":806},{"x":-11.925,"z":-3.875,"t":797},{"x":-11.675,"z":-3.875,"t":790}
],
"sa": [{"x":-19.46,"z":0},{"x":-18.87,"z":-0.03},{"x":-18.06,"z":-0.17},{"x":-17.36,"z":-0.24},{"x":-16.21,"z":-0.24},{"x":-15.5,"z":-0.14},{"x":-14.8,"z":0.03},{"x":-13.86,"z":0.14},{"x":-12.91,"z":0.17},{"x":-12.7,"z":0.14},{"x":-12.46,"z":0},{"x":-12.11,"z":0}],
"sb": [{"x":-26.05,"z":0},{"x":-25.0,"z":-0.07},{"x":-24.4,"z":-0.24},{"x":-23.81,"z":-0.45},{"x":-23.25,"z":-0.63},{"x":-22.65,"z":-0.77},{"x":-22.06,"z":-0.8},{"x":-21.5,"z":-0.8},{"x":-21.01,"z":-0.7},{"x":-20.3,"z":-0.52},{"x":-19.6,"z":-0.35},{"x":-18.9,"z":-0.17},{"x":-18.1,"z":0},{"x":-17.22,"z":0.28},{"x":-16.03,"z":0.52},{"x":-15.33,"z":0.7},{"x":-14.87,"z":0.8},{"x":-14.28,"z":0.87},{"x":-13.72,"z":0.77},{"x":-13.37,"z":0.52},{"x":-13.02,"z":0.24},{"x":-12.67,"z":0.07},{"x":-12.32,"z":0},{"x":-10.18,"z":0}],
"va": [{"x":-19.08,"z":-0.14,"a":180},{"x":-18.76,"z":-0.21,"a":180},{"x":-18.55,"z":-0.49,"a":180},{"x":-18.13,"z":-0.45,"a":180},{"x":-17.71,"z":-0.45,"a":180},{"x":-17.29,"z":-0.45,"a":180},{"x":-16.87,"z":-0.45,"a":180},{"x":-16.45,"z":-0.45,"a":180},{"x":-16.03,"z":-0.45,"a":180},{"x":-15.61,"z":-0.49,"a":180},{"x":-15.08,"z":-0.56,"a":200},{"x":-14.66,"z":-0.52,"a":190},{"x":-14.24,"z":-0.49,"a":180},{"x":-13.79,"z":-0.45,"a":200},{"x":-13.44,"z":-0.31,"a":230},{"x":-15.26,"z":-0.03,"a":180},{"x":-14.84,"z":-0.03,"a":180},{"x":-14.42,"z":-0.07,"a":180},{"x":-14.0,"z":-0.1,"a":180},{"x":-13.37,"z":0.21,"a":0},{"x":-12.95,"z":0.24,"a":0},{"x":-12.6,"z":0.17,"a":0},{"x":-12.77,"z":0.38,"a":-10}],
"vb": [{"x":-25.17,"z":-0.07,"a":20},{"x":-24.89,"z":0.0,"a":40},{"x":-24.82,"z":-0.28,"a":80},{"x":-24.61,"z":-0.49,"a":80},{"x":-24.33,"z":-0.66,"a":110},{"x":-24.05,"z":-0.56,"a":180},{"x":-23.56,"z":-0.73,"a":190},{"x":-23.14,"z":-0.84,"a":190},{"x":-22.72,"z":-0.91,"a":185},{"x":-22.3,"z":-0.98,"a":185},{"x":-21.88,"z":-1.01,"a":180},{"x":-21.43,"z":-0.94,"a":180},{"x":-21.0,"z":-0.84,"a":170},
{"x":-23.77,"z":-1.05,"a":180},{"x":-23.35,"z":-1.08,"a":180},{"x":-22.93,"z":-1.08,"a":180},{"x":-22.51,"z":-1.08,"a":180},{"x":-22.09,"z":-1.11,"a":180},{"x":-21.67,"z":-1.11,"a":180},{"x":-21.25,"z":-1.08,"a":180},
{"x":-20.65,"z":-1.15,"a":180},{"x":-20.13,"z":-1.11,"a":180},{"x":-19.6,"z":-1.08,"a":180},{"x":-19.08,"z":-1.05,"a":180},{"x":-18.55,"z":-1.01,"a":180},
{"x":-19.95,"z":-0.87,"a":180},{"x":-19.36,"z":-0.84,"a":180},{"x":-18.8,"z":-0.8,"a":180},{"x":-18.24,"z":-0.77,"a":180},{"x":-17.68,"z":-0.77,"a":180},{"x":-17.12,"z":-0.73,"a":180},{"x":-16.56,"z":-0.7,"a":180},{"x":-16.0,"z":-0.66,"a":180},{"x":-15.44,"z":-0.63,"a":185},
{"x":-19.25,"z":-0.56,"a":180},{"x":-18.66,"z":-0.52,"a":180},{"x":-18.1,"z":-0.49,"a":180},{"x":-17.54,"z":-0.45,"a":180},{"x":-16.98,"z":-0.42,"a":180},{"x":-16.42,"z":-0.38,"a":180},{"x":-15.86,"z":-0.35,"a":180},{"x":-15.3,"z":-0.31,"a":180},{"x":-14.73,"z":-0.28,"a":180},{"x":-14.17,"z":-0.24,"a":200},
{"x":-18.38,"z":-0.24,"a":190},{"x":-17.82,"z":-0.17,"a":185},{"x":-17.26,"z":-0.14,"a":180},{"x":-16.7,"z":-0.1,"a":180},{"x":-16.14,"z":-0.07,"a":180},{"x":-15.58,"z":-0.03,"a":180},{"x":-15.01,"z":0.0,"a":180},{"x":-14.45,"z":0.03,"a":190},{"x":-13.89,"z":0.1,"a":200},
{"x":-19.01,"z":-0.07,"a":200},{"x":-17.15,"z":0.17,"a":210},{"x":-16.45,"z":0.24,"a":220},{"x":-15.75,"z":0.28,"a":230},{"x":-15.05,"z":0.31,"a":240},{"x":-14.35,"z":0.31,"a":250},{"x":-13.72,"z":0.28,"a":240},
{"x":-15.58,"z":0.77,"a":0},{"x":-15.05,"z":0.87,"a":0},{"x":-14.59,"z":0.91,"a":0},{"x":-14.17,"z":0.91,"a":0},{"x":-13.75,"z":0.87,"a":10},{"x":-13.33,"z":0.77,"a":30},
{"x":-13.37,"z":0.42,"a":90},{"x":-13.19,"z":0.17,"a":80},{"x":-13.54,"z":-0.07,"a":120},{"x":-20.55,"z":-0.59,"a":180},{"x":-20.13,"z":-0.49,"a":190}],
"ra": [{"o":1,"x":-19.22,"z":0.28},{"o":2,"x":-18.41,"z":0.21},{"o":3,"x":-17.01,"z":0.1},{"o":4,"x":-16.07,"z":0.24},{"o":5,"x":-15.26,"z":0.38},{"o":6,"x":-14.31,"z":0.52},{"o":7,"x":-13.4,"z":0.59},{"o":8,"x":-12.53,"z":0.56}],
"rha": [{"x":-19.22,"z":0.28,"a":185},{"x":-12.53,"z":0.56,"a":2}],
"rb": [{"o":1,"x":-21.18,"z":-0.38},{"o":2,"x":-19.88,"z":0.07},{"o":3,"x":-18.13,"z":0.52},{"o":4,"x":-16.38,"z":0.87},{"o":5,"x":-14.98,"z":1.11},{"o":6,"x":-14.07,"z":1.15},{"o":7,"x":-13.37,"z":1.05},{"o":8,"x":-12.88,"z":0.84}],
"rhb": [{"x":-12.88,"z":0.84,"a":30}],
"wb": [{"o":1,"x":-15.33,"z":0.63},{"o":2,"x":-14.52,"z":0.66},{"o":3,"x":-13.82,"z":0.56},{"o":4,"x":-13.4,"z":0.28},{"o":5,"x":-13.54,"z":-0.03},{"o":6,"x":-14.35,"z":-0.35},{"o":7,"x":-15.57,"z":-0.59},{"o":8,"x":-17.33,"z":-0.84},{"o":9,"x":-19.08,"z":-1.01},{"o":10,"x":-20.83,"z":-1.11}],
"whb": [{"x":-21.0,"z":-1.1,"a":188}],
"sepa": [{"v":592},{"v":884},{"v":1176},{"v":1468},{"v":1760}],
"sepb": [{"v":590},{"v":880},{"v":1170},{"v":1460},{"v":1750}]
},
"columns": 2,
"bounds": "flush",
"spacing": {"row": 15, "column": 116},
"concat": [
{"width": 453, "height": 21,
"title": {"text": "Temperature (K) and fluid flow ( max=0.488 m/s) fields", "fontSize": 21, "fontWeight": "bold", "color": "black", "anchor": "middle", "frame": "group", "dx": -37, "offset": 27},
"layer": [
{"data": {"name": "cba"}, "mark": {"type": "rect", "width": 9.9, "clip": true},
"encoding": {"x": {"field": "t", "type": "quantitative", "scale": {"domain": [300, 2052], "nice": false, "zero": false},
"axis": {"orient": "top", "values": [300, 592, 884, 1176, 1468, 1760, 2052], "format": "d", "domain": false, "ticks": false, "tickSize": 0, "grid": false, "labelFontSize": 18, "labelFontWeight": "bold", "labelColor": "black", "labelPadding": 5, "labelFlush": false, "labelOverlap": false, "title": null}},
"y": {"datum": 0, "type": "quantitative", "scale": {"domain": [0, 1], "nice": false, "zero": false}, "axis": {"orient": "left", "domain": false, "ticks": false, "labels": false, "grid": false, "title": "(A)", "titleFontSize": 22, "titleFontWeight": "bold", "titleColor": "black", "titleAngle": 0, "titleAlign": "center", "titleBaseline": "middle", "titleX": -44, "titleY": -4}},
"y2": {"datum": 1},
"color": {"field": "t", "type": "quantitative", "legend": null, "scale": {"domain": [300, 446, 592, 738, 884, 1030, 1176, 1322, 1468, 1614, 1760, 1906, 2052], "range": ["#0030ff", "#0080ff", "#00c6f2", "#00e6e8", "#00f0d0", "#00f098", "#00e800", "#70f000", "#c8f000", "#e2ec00", "#f0d000", "#f89a00", "#ff2800"], "interpolate": "rgb", "clamp": true}}}},
{"data": {"name": "sepa"}, "mark": {"type": "rule", "color": "#333333", "strokeWidth": 1}, "encoding": {"x": {"field": "v", "type": "quantitative"}}}
]},
{"width": 453, "height": 21,
"title": {"text": "Temperature (K) and fluid flow ( max=0.441 m/s) fields", "fontSize": 21, "fontWeight": "bold", "color": "black", "anchor": "middle", "frame": "group", "dx": -13, "offset": 27},
"layer": [
{"data": {"name": "cbb"}, "mark": {"type": "rect", "width": 9.9, "clip": true},
"encoding": {"x": {"field": "t", "type": "quantitative", "scale": {"domain": [300, 2040], "nice": false, "zero": false},
"axis": {"orient": "top", "values": [300, 590, 880, 1170, 1460, 1750, 2040], "format": "d", "domain": false, "ticks": false, "tickSize": 0, "grid": false, "labelFontSize": 18, "labelFontWeight": "bold", "labelColor": "black", "labelPadding": 5, "labelFlush": false, "labelOverlap": false, "title": null}},
"y": {"datum": 0, "type": "quantitative", "scale": {"domain": [0, 1], "nice": false, "zero": false}, "axis": {"orient": "left", "domain": false, "ticks": false, "labels": false, "grid": false, "title": "(B)", "titleFontSize": 22, "titleFontWeight": "bold", "titleColor": "black", "titleAngle": 0, "titleAlign": "center", "titleBaseline": "middle", "titleX": -50, "titleY": -4}},
"y2": {"datum": 1},
"color": {"field": "t", "type": "quantitative", "legend": null, "scale": {"domain": [300, 445, 590, 735, 880, 1025, 1170, 1315, 1460, 1605, 1750, 1895, 2040], "range": ["#0030ff", "#0080ff", "#00c6f2", "#00e6e8", "#00f0d0", "#00f098", "#00e800", "#70f000", "#c8f000", "#e2ec00", "#f0d000", "#f89a00", "#ff2800"], "interpolate": "rgb", "clamp": true}}}},
{"data": {"name": "sepb"}, "mark": {"type": "rule", "color": "#333333", "strokeWidth": 1}, "encoding": {"x": {"field": "v", "type": "quantitative"}}}
]},
{"width": 453, "height": 287,
"layer": [
{"data": {"name": "fa"}, "mark": {"type": "rect", "width": 14.9, "height": 15, "clip": true},
"encoding": {
"x": {"field": "x", "type": "quantitative", "scale": {"domain": [-26.05, -10.18], "nice": false, "zero": false},
"axis": {"orient": "bottom", "offset": 12, "values": [-26.05, -23.405, -20.76, -18.115, -15.47, -12.825, -10.18], "labelExpr": "datum.value == -26.05 ? '-0.02605' : datum.value == -20.76 ? '-0.02076' : datum.value == -15.47 ? '-0.01547' : datum.value == -10.18 ? '-0.01018' : ''", "labelFlush": false, "labelOverlap": false, "grid": false, "domainColor": "#333333", "tickColor": "#333333", "tickSize": 5, "labelFontSize": 18, "labelFontWeight": "bold", "labelColor": "black", "labelPadding": 4, "title": "X (m)", "titleFontSize": 20, "titleFontWeight": "bold", "titleColor": "black", "titlePadding": 2}},
"y": {"field": "z", "type": "quantitative", "scale": {"domain": [-7, 3], "nice": false, "zero": false},
"axis": {"orient": "left", "offset": 14, "values": [3, 0.5, -2, -4.5, -7], "labelExpr": "datum.value == 3 ? '0.003' : datum.value == -2 ? '-0.002' : datum.value == -7 ? '-0.007' : ''", "labelOverlap": false, "grid": false, "domainColor": "#333333", "tickColor": "#333333", "tickSize": 4, "labelFontSize": 18, "labelFontWeight": "bold", "labelColor": "black", "labelPadding": 2, "title": "Z (m)", "titleFontSize": 20, "titleFontWeight": "bold", "titleColor": "black", "titleAngle": 0, "titleAlign": "center", "titleBaseline": "middle", "titleX": -30, "titleY": 110}},
"color": {"field": "t", "type": "quantitative", "legend": null, "scale": {"domain": [300, 446, 592, 738, 884, 1030, 1176, 1322, 1468, 1614, 1760, 1906, 2052], "range": ["#0030ff", "#0080ff", "#00c6f2", "#00e6e8", "#00f0d0", "#00f098", "#00e800", "#70f000", "#c8f000", "#e2ec00", "#f0d000", "#f89a00", "#ff2800"], "interpolate": "rgb", "clamp": true}}}},
{"data": {"name": "fa2"}, "mark": {"type": "rect", "width": 14.9, "height": 7.7, "clip": true},
"encoding": {"x": {"field": "x", "type": "quantitative"}, "y": {"field": "z", "type": "quantitative"}, "color": {"field": "t", "type": "quantitative", "legend": null}}},
{"data": {"name": "sa"}, "mark": {"type": "area", "fill": "white", "interpolate": "monotone", "clip": true},
"encoding": {"x": {"field": "x", "type": "quantitative"}, "y": {"field": "z", "type": "quantitative"}, "y2": {"datum": 0.6}}},
{"mark": {"type": "rule", "color": "#555555", "strokeWidth": 1.5}, "encoding": {"y": {"datum": -7, "type": "quantitative"}}},
{"data": {"name": "va"}, "mark": {"type": "point", "shape": "M-1,0L0.15,0M0.15,-0.42L1,0L0.15,0.42Z", "filled": true, "color": "black", "stroke": "black", "strokeWidth": 0.8, "size": 150, "opacity": 1},
"encoding": {"x": {"field": "x", "type": "quantitative"}, "y": {"field": "z", "type": "quantitative"}, "angle": {"field": "a", "type": "quantitative", "scale": null}}},
{"data": {"name": "ra"}, "mark": {"type": "line", "color": "#c8161d", "strokeWidth": 3.5, "strokeDash": [13, 9], "interpolate": "monotone"},
"encoding": {"x": {"field": "x", "type": "quantitative"}, "y": {"field": "z", "type": "quantitative"}, "order": {"field": "o"}}},
{"data": {"name": "rha"}, "mark": {"type": "point", "shape": "M-1,-1L0,0L-1,1", "filled": false, "stroke": "#c8161d", "strokeWidth": 3, "size": 120, "opacity": 1},
"encoding": {"x": {"field": "x", "type": "quantitative"}, "y": {"field": "z", "type": "quantitative"}, "angle": {"field": "a", "type": "quantitative", "scale": null}}},
{"mark": {"type": "text", "text": "Molten metal flows outward", "fontSize": 20, "fontWeight": "bold", "color": "black"},
"encoding": {"x": {"datum": -15.89, "type": "quantitative"}, "y": {"datum": 2.2, "type": "quantitative"}}}
]},
{"width": 453, "height": 287,
"layer": [
{"data": {"name": "fb"}, "mark": {"type": "rect", "width": 14.9, "height": 15, "clip": true},
"encoding": {
"x": {"field": "x", "type": "quantitative", "scale": {"domain": [-26.05, -10.18], "nice": false, "zero": false},
"axis": {"orient": "bottom", "offset": 12, "values": [-26.05, -23.405, -20.76, -18.115, -15.47, -12.825, -10.18], "labelExpr": "datum.value == -26.05 ? '-0.02605' : datum.value == -20.76 ? '-0.02076' : datum.value == -15.47 ? '-0.01547' : datum.value == -10.18 ? '-0.01018' : ''", "labelFlush": false, "labelOverlap": false, "grid": false, "domainColor": "#333333", "tickColor": "#333333", "tickSize": 5, "labelFontSize": 18, "labelFontWeight": "bold", "labelColor": "black", "labelPadding": 4, "title": "X (m)", "titleFontSize": 20, "titleFontWeight": "bold", "titleColor": "black", "titlePadding": 2}},
"y": {"field": "z", "type": "quantitative", "scale": {"domain": [-7, 3], "nice": false, "zero": false},
"axis": {"orient": "left", "offset": 14, "values": [3, 0.5, -2, -4.5, -7], "labelExpr": "datum.value == 3 ? '0.003' : datum.value == -2 ? '-0.002' : datum.value == -7 ? '-0.007' : ''", "labelOverlap": false, "grid": false, "domainColor": "#333333", "tickColor": "#333333", "tickSize": 4, "labelFontSize": 18, "labelFontWeight": "bold", "labelColor": "black", "labelPadding": 2, "title": "Z (m)", "titleFontSize": 20, "titleFontWeight": "bold", "titleColor": "black", "titleAngle": 0, "titleAlign": "center", "titleBaseline": "middle", "titleX": -30, "titleY": 110}},
"color": {"field": "t", "type": "quantitative", "legend": null, "scale": {"domain": [300, 445, 590, 735, 880, 1025, 1170, 1315, 1460, 1605, 1750, 1895, 2040], "range": ["#0030ff", "#0080ff", "#00c6f2", "#00e6e8", "#00f0d0", "#00f098", "#00e800", "#70f000", "#c8f000", "#e2ec00", "#f0d000", "#f89a00", "#ff2800"], "interpolate": "rgb", "clamp": true}}}},
{"data": {"name": "fb2"}, "mark": {"type": "rect", "width": 7.6, "height": 7.7, "clip": true},
"encoding": {"x": {"field": "x", "type": "quantitative"}, "y": {"field": "z", "type": "quantitative"}, "color": {"field": "t", "type": "quantitative", "legend": null}}},
{"data": {"name": "sb"}, "mark": {"type": "area", "fill": "white", "interpolate": "monotone", "clip": true},
"encoding": {"x": {"field": "x", "type": "quantitative"}, "y": {"field": "z", "type": "quantitative"}, "y2": {"datum": 1.1}}},
{"mark": {"type": "rule", "color": "#555555", "strokeWidth": 1.5}, "encoding": {"y": {"datum": -7, "type": "quantitative"}}},
{"data": {"name": "vb"}, "mark": {"type": "point", "shape": "M-1,0L0.15,0M0.15,-0.42L1,0L0.15,0.42Z", "filled": true, "color": "black", "stroke": "black", "strokeWidth": 0.8, "size": 150, "opacity": 1},
"encoding": {"x": {"field": "x", "type": "quantitative"}, "y": {"field": "z", "type": "quantitative"}, "angle": {"field": "a", "type": "quantitative", "scale": null}}},
{"data": {"name": "wb"}, "mark": {"type": "line", "color": "white", "strokeWidth": 3, "interpolate": "catmull-rom"},
"encoding": {"x": {"field": "x", "type": "quantitative"}, "y": {"field": "z", "type": "quantitative"}, "order": {"field": "o"}}},
{"data": {"name": "whb"}, "mark": {"type": "point", "shape": "M-1,-1L0,0L-1,1", "filled": false, "stroke": "white", "strokeWidth": 3, "size": 110, "opacity": 1},
"encoding": {"x": {"field": "x", "type": "quantitative"}, "y": {"field": "z", "type": "quantitative"}, "angle": {"field": "a", "type": "quantitative", "scale": null}}},
{"data": {"name": "rb"}, "mark": {"type": "line", "color": "#c8161d", "strokeWidth": 3.5, "strokeDash": [13, 9], "interpolate": "monotone"},
"encoding": {"x": {"field": "x", "type": "quantitative"}, "y": {"field": "z", "type": "quantitative"}, "order": {"field": "o"}}},
{"data": {"name": "rhb"}, "mark": {"type": "point", "shape": "M-1,-1L0,0L-1,1", "filled": false, "stroke": "#c8161d", "strokeWidth": 3, "size": 120, "opacity": 1},
"encoding": {"x": {"field": "x", "type": "quantitative"}, "y": {"field": "z", "type": "quantitative"}, "angle": {"field": "a", "type": "quantitative", "scale": null}}},
{"mark": {"type": "text", "text": "Molten metal flows backward", "fontSize": 20, "fontWeight": "bold", "color": "black"},
"encoding": {"x": {"datum": -18.27, "type": "quantitative"}, "y": {"datum": 2.2, "type": "quantitative"}}}
]}
]
}
